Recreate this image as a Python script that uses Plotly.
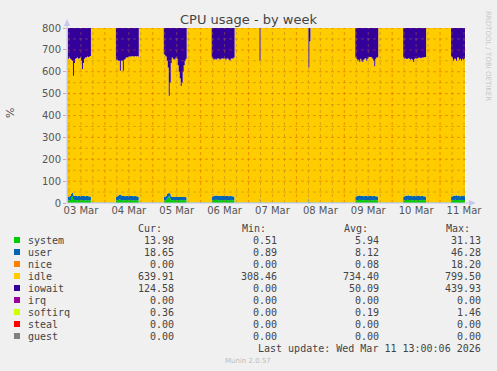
import numpy as np
import pandas as pd
import plotly.graph_objects as go

# ---------------- data ----------------
N_POINTS = 400                      # 30-minute samples shown in the week graph
START = "2026-03-03 05:00"
TOTAL = 800                         # 8 CPUs x 100 %

BASE_SYSTEM = 0.8
BASE_USER = 1.5
BASE_SOFTIRQ = 0.15

# busy periods: start sample index + half-hourly values
block_starts = [1, 49, 97, 145, 193, 242, 289, 337, 385]
block_iowait = [
    [140, 135, 140, 145, 150, 218, 160, 140, 138, 135, 140, 138, 135, 150, 187, 160, 140, 135, 135, 130, 132, 130, 128],
    [145, 145, 150, 150, 195, 150, 150, 195, 145, 140, 135, 135, 132, 130, 130, 130, 128, 130, 130, 128, 130, 128, 130],
    [120, 125, 130, 150, 180, 310, 250, 160, 135, 140, 145, 140, 135, 140, 170, 200, 230, 265, 250, 200, 170, 150, 140],
    [135, 140, 145, 140, 145, 140, 138, 140, 145, 140, 138, 140, 138, 140, 145, 138, 140, 145, 150, 140, 138, 140, 135],
    [150],
    [180, 60],
    [135, 140, 150, 145, 155, 140, 150, 155, 145, 140, 138, 150, 140, 135, 132, 132, 135, 140, 150, 175, 140, 135, 133],
    [135, 140, 138, 142, 140, 138, 140, 145, 140, 145, 155, 140, 138, 140, 138, 136, 135, 138, 136, 135, 135, 133, 132],
    [130, 135, 150, 140, 140, 150, 135, 135, 145, 140, 150, 140, 145, 140, 125],
]
block_system = [
    [12, 13, 14, 28, 30, 16, 14, 14, 13, 13, 14, 14, 13, 13, 14, 14, 13, 13, 13, 14, 13, 13, 12],
    [12, 13, 14, 16, 15, 14, 13, 14, 13, 13, 14, 14, 13, 13, 14, 14, 13, 13, 13, 14, 13, 13, 12],
    [12, 13, 14, 20, 25, 31, 22, 14, 13, 13, 14, 14, 13, 13, 14, 14, 13, 13, 13, 14, 13, 13, 12],
    [12, 13, 14, 14, 15, 14, 13, 14, 13, 13, 14, 14, 13, 13, 14, 14, 13, 13, 13, 14, 13, 13, 12],
    [8],
    [8, 2],
    [12, 13, 14, 14, 15, 14, 13, 14, 13, 13, 14, 14, 13, 13, 14, 14, 13, 13, 13, 14, 13, 13, 12],
    [12, 13, 14, 14, 15, 14, 13, 14, 13, 13, 14, 14, 13, 13, 14, 14, 13, 13, 13, 14, 13, 13, 12],
    [12, 13, 14, 14, 15, 14, 13, 14, 13, 13, 14, 14, 14, 14, 14],
]
block_user = [
    [16, 17, 18, 14, 16, 20, 19, 18, 19, 18, 18, 19, 18, 19, 18, 18, 19, 18, 19, 18, 18, 18, 17],
    [16, 18, 20, 22, 24, 21, 19, 20, 19, 18, 18, 19, 18, 19, 18, 18, 19, 18, 19, 18, 18, 18, 17],
    [15, 16, 18, 22, 20, 15, 20, 17, 15, 14, 15, 14, 15, 14, 15, 14, 15, 14, 15, 14, 15, 14, 14],
    [16, 18, 19, 20, 19, 21, 19, 20, 19, 21, 18, 19, 20, 19, 18, 20, 19, 18, 19, 18, 18, 18, 17],
    [10],
    [10, 3],
    [16, 18, 20, 19, 21, 19, 20, 19, 18, 20, 18, 19, 18, 19, 20, 18, 19, 18, 19, 18, 18, 18, 17],
    [16, 18, 19, 20, 19, 21, 19, 20, 19, 18, 20, 19, 18, 19, 18, 20, 19, 18, 19, 18, 18, 18, 17],
    [16, 18, 19, 20, 19, 21, 19, 20, 19, 18, 20, 19, 18, 19, 18.65],
]

series_names = ["system", "user", "nice", "idle", "iowait", "irq", "softirq", "steal", "guest"]
series_colors = ["#00CC00", "#0066B3", "#FF8000", "#FFCC00", "#330099",
                 "#990099", "#CCFF00", "#FF0000", "#808080"]
stat_cur = ["13.98", "18.65", "0.00", "639.91", "124.58", "0.00", "0.36", "0.00", "0.00"]
stat_min = ["0.51", "0.89", "0.00", "308.46", "0.00", "0.00", "0.00", "0.00", "0.00"]
stat_avg = ["5.94", "8.12", "0.08", "734.40", "50.09", "0.00", "0.19", "0.00", "0.00"]
stat_max = ["31.13", "46.28", "18.20", "799.50", "439.93", "0.00", "1.46", "0.00", "0.00"]

day_labels = ["03 Mar", "04 Mar", "05 Mar", "06 Mar", "07 Mar", "08 Mar", "09 Mar", "10 Mar", "11 Mar"]
day_label_times = ["2026-03-03 12:00", "2026-03-04 12:00", "2026-03-05 12:00", "2026-03-06 12:00",
                   "2026-03-07 12:00", "2026-03-08 12:00", "2026-03-09 12:00", "2026-03-10 12:00",
                   "2026-03-11 12:00"]
y_ticks = [0, 100, 200, 300, 400, 500, 600, 700, 800]

# ---------------- assemble series ----------------
times = pd.date_range(START, periods=N_POINTS, freq="30min")
system = np.full(N_POINTS, BASE_SYSTEM)
user = np.full(N_POINTS, BASE_USER)
nice = np.zeros(N_POINTS)
iowait = np.zeros(N_POINTS)
irq = np.zeros(N_POINTS)
softirq = np.full(N_POINTS, BASE_SOFTIRQ)
steal = np.zeros(N_POINTS)
guest = np.zeros(N_POINTS)
for s, io, sy, us in zip(block_starts, block_iowait, block_system, block_user):
    iowait[s:s + len(io)] = io
    system[s:s + len(sy)] = sy
    user[s:s + len(us)] = us
idle = TOTAL - (system + user + nice + iowait + irq + softirq + steal + guest)
values = [system, user, nice, idle, iowait, irq, softirq, steal, guest]

# ---------------- geometry ----------------
W, H = 497, 371
L, R, T, B = 67, 466, 28, 203


def px(x):
    return (x - L) / (R - L)


def py(y):
    return (B - y) / (B - T)


fig = go.Figure()
for name, col, v in zip(series_names, series_colors, values):
    fig.add_trace(go.Scatter(x=times, y=v, name=name, mode="lines", stackgroup="cpu",
                             line=dict(width=0, shape="hv", color=col), fillcolor=col,
                             showlegend=False, hoverinfo="skip"))

x_start = pd.Timestamp(START)
x_end = pd.Timestamp("2026-03-11 13:00")

shapes = []
# horizontal grid (drawn above the areas, like rrdtool)
for yv in range(50, 801, 50):
    major = yv % 100 == 0
    shapes.append(dict(type="line", xref="paper", yref="y", x0=0, x1=1, y0=yv, y1=yv, layer="above",
                       line=dict(color="rgba(230,60,0,0.45)" if major else "rgba(170,120,40,0.45)",
                                 width=1, dash="dot")))
# vertical grid every 6 h
t = pd.Timestamp("2026-03-03 06:00")
while t < x_end:
    major = t.hour == 0
    shapes.append(dict(type="line", xref="x", yref="paper", x0=t, x1=t, y0=0, y1=1, layer="above",
                       line=dict(color="rgba(230,60,0,0.45)" if major else "rgba(170,120,40,0.45)",
                                 width=1, dash="dot")))
    t += pd.Timedelta(hours=6)

axis_col = "#C4C8EE"
shapes.append(dict(type="line", xref="paper", yref="paper", x0=px(L), x1=px(474), y0=py(B), y1=py(B),
                   line=dict(color=axis_col, width=1), layer="above"))
shapes.append(dict(type="line", xref="paper", yref="paper", x0=px(L), x1=px(L), y0=py(B), y1=py(21),
                   line=dict(color=axis_col, width=1), layer="above"))
shapes.append(dict(type="path", xref="paper", yref="paper", layer="above",
                   path=f"M {px(476)} {py(B)} L {px(469)} {py(B - 3)} L {px(469)} {py(B + 3)} Z",
                   fillcolor=axis_col, line=dict(width=0)))
shapes.append(dict(type="path", xref="paper", yref="paper", layer="above",
                   path=f"M {px(L)} {py(19)} L {px(L - 3)} {py(26)} L {px(L + 3)} {py(26)} Z",
                   fillcolor=axis_col, line=dict(width=0)))

annotations = []
mono = "DejaVu Sans Mono"
txt_col = "#444444"
col_right = [176, 279, 381, 483]
hdr_right = [164, 268, 370, 472]
for hdr, xr in zip(["Cur:", "Min:", "Avg:", "Max:"], hdr_right):
    annotations.append(dict(x=px(xr), y=py(228), xref="paper", yref="paper", text=hdr, showarrow=False,
                            xanchor="right", yanchor="middle", font=dict(family=mono, size=10, color=txt_col)))
for i, name in enumerate(series_names):
    yrow = 240 + 12 * i
    shapes.append(dict(type="rect", xref="paper", yref="paper", x0=px(14), x1=px(20),
                       y0=py(yrow + 3), y1=py(yrow - 3), fillcolor=series_colors[i], line=dict(width=0)))
    annotations.append(dict(x=px(26), y=py(yrow), xref="paper", yref="paper", text=name, showarrow=False,
                            xanchor="left", yanchor="middle", font=dict(family=mono, size=10, color=txt_col)))
    for stat, xr in zip([stat_cur, stat_min, stat_avg, stat_max], col_right):
        annotations.append(dict(x=px(xr), y=py(yrow), xref="paper", yref="paper", text=stat[i],
                                showarrow=False, xanchor="right", yanchor="middle",
                                font=dict(family=mono, size=10, color=txt_col)))
annotations.append(dict(x=px(483), y=py(348), xref="paper", yref="paper",
                        text="Last update: Wed Mar 11 13:00:06 2026", showarrow=False,
                        xanchor="right", yanchor="middle", font=dict(family=mono, size=10, color=txt_col)))
annotations.append(dict(x=px(248), y=py(361), xref="paper", yref="paper", text="Munin 2.0.57",
                        showarrow=False, xanchor="center", yanchor="middle",
                        font=dict(family="DejaVu Sans", size=7, color="#BBBBBB")))
annotations.append(dict(x=px(10), y=py(113), xref="paper", yref="paper", text="%", textangle=-90,
                        showarrow=False, xanchor="center", yanchor="middle",
                        font=dict(family="DejaVu Sans", size=11, color="#555555")))
annotations.append(dict(x=px(488), y=py(56), xref="paper", yref="paper", text="RRDTOOL / TOBI OETIKER",
                        textangle=90, showarrow=False, xanchor="center", yanchor="middle",
                        font=dict(family="DejaVu Sans", size=7, color="#C8C8C8")))

fig.update_layout(
    width=W, height=H,
    margin=dict(l=L, r=W - R, t=T, b=H - B, pad=0),
    paper_bgcolor="#F0F0F0", plot_bgcolor="#FFFFFF",
    title=dict(text="CPU usage - by week", x=0.5, xref="container", xanchor="center",
               y=1 - 19 / H, yref="container", yanchor="middle",
               font=dict(family="DejaVu Sans", size=13, color="#444444")),
    shapes=shapes, annotations=annotations, showlegend=False,
)
fig.update_xaxes(type="date", range=[x_start, x_end], showgrid=False, zeroline=False, showline=False,
                 tickmode="array", tickvals=day_label_times, ticktext=day_labels, ticks="",
                 tickfont=dict(family="DejaVu Sans", size=10, color="#555555"), fixedrange=True)
fig.update_yaxes(range=[0, TOTAL], showgrid=False, zeroline=False, showline=False,
                 tickmode="array", tickvals=y_ticks, ticks="outside", ticklen=3,
                 tickcolor="rgba(230,120,120,0.7)",
                 tickfont=dict(family="DejaVu Sans", size=10, color="#555555"), fixedrange=True)

fig.write_html("out.html")
